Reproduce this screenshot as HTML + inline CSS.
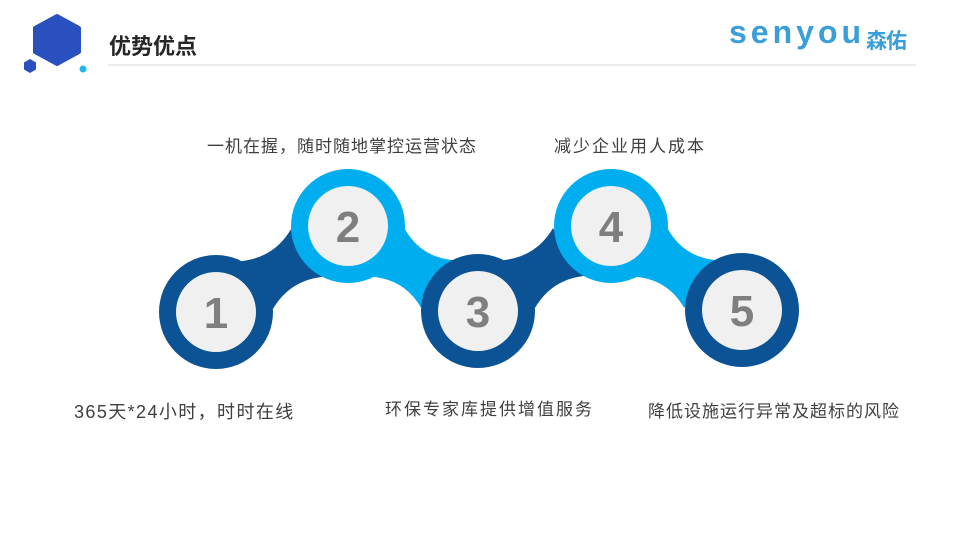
<!DOCTYPE html>
<html><head><meta charset="utf-8"><style>
body{margin:0;width:960px;height:540px;background:#fff;overflow:hidden;position:relative;font-family:"Liberation Sans","Noto Sans CJK SC",sans-serif}
.t{position:absolute;font-size:17px;color:#404040;white-space:nowrap;letter-spacing:1px}
</style></head><body>
<svg width="960" height="540" style="position:absolute;left:0;top:0">
<polygon points="57,16 79,28 79,52 57,64 35,52 35,28" fill="#2a4fbf" stroke="#2a4fbf" stroke-width="4" stroke-linejoin="round"/>
<polygon points="30,59 36,62.5 36,69.5 30,73 24,69.5 24,62.5" fill="#2a4fbf"/>
<circle cx="83" cy="69" r="3.5" fill="#1fb6f0"/>
<line x1="108" y1="65" x2="916" y2="65" stroke="#d9d9d9" stroke-width="1"/>
<path d="M273,308.9 Q289.6,280.7 322.2,276.9 L291,229.1 Q274.4,257.3 241.8,261.1 Z" fill="#0b5394"/>
<path d="M373.7,276.9 Q405.3,280.2 421.1,307.9 L452.3,260.1 Q420.7,256.8 404.9,229.1 Z" fill="#00adef"/>
<g transform="translate(262,-1)"><path d="M273,308.9 Q289.6,280.7 322.2,276.9 L291,229.1 Q274.4,257.3 241.8,261.1 Z" fill="#0b5394"/></g>
<g transform="translate(263,0)"><path d="M373.7,276.9 Q405.3,280.2 421.1,307.9 L452.3,260.1 Q420.7,256.8 404.9,229.1 Z" fill="#00adef"/></g>
<g font-family="Liberation Sans,sans-serif" font-weight="bold" font-size="44" fill="#7f7f7f" text-anchor="middle">
<circle cx="216" cy="312" r="57" fill="#0b5394"/><circle cx="216" cy="312" r="40" fill="#f0f0f0"/><text x="216" y="328">1</text>
<circle cx="348" cy="226" r="57" fill="#00adef"/><circle cx="348" cy="226" r="40" fill="#f0f0f0"/><text x="348" y="242">2</text>
<circle cx="478" cy="311" r="57" fill="#0b5394"/><circle cx="478" cy="311" r="40" fill="#f0f0f0"/><text x="478" y="327">3</text>
<circle cx="611" cy="226" r="57" fill="#00adef"/><circle cx="611" cy="226" r="40" fill="#f0f0f0"/><text x="611" y="242">4</text>
<circle cx="742" cy="310" r="57" fill="#0b5394"/><circle cx="742" cy="310" r="40" fill="#f0f0f0"/><text x="742" y="326">5</text>
</g>
</svg>
<div style="position:absolute;left:109px;top:29px;font-size:22px;font-weight:bold;color:#262626">优势优点</div>
<div style="position:absolute;left:729px;top:14px;font-size:32px;font-weight:bold;color:#3a9fd8;letter-spacing:4px">senyou</div>
<div style="position:absolute;left:866px;top:25px;font-size:21px;font-weight:bold;color:#3a9fd8;letter-spacing:-1px">森佑</div>
<div class="t" style="left:207px;top:132px">一机在握，随时随地掌控运营状态</div>
<div class="t" style="left:554px;top:132px;letter-spacing:2px">减少企业用人成本</div>
<div class="t" style="left:74px;top:398px;font-size:18px;letter-spacing:1.4px">365天*24小时，时时在线</div>
<div class="t" style="left:385px;top:395px;letter-spacing:2px">环保专家库提供增值服务</div>
<div class="t" style="left:648px;top:397px">降低设施运行异常及超标的风险</div>
</body></html>
